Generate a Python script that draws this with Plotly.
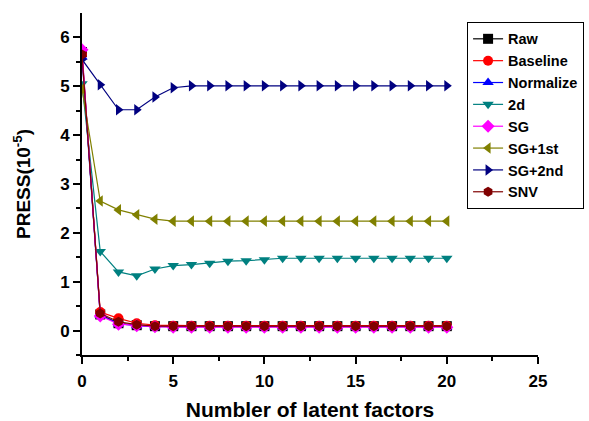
import plotly.graph_objects as go

x = list(range(21))
raw = [5.70, 0.33, 0.15, 0.11, 0.09] + [0.09] * 16
baseline = [5.65, 0.38, 0.25, 0.15, 0.11] + [0.10] * 16
normalize = [5.60, 0.32, 0.14, 0.10, 0.08] + [0.08] * 16
d2 = [5.05, 1.62, 1.20, 1.12, 1.26, 1.33, 1.35, 1.38, 1.42, 1.43, 1.45] + [1.48] * 10
sg = [5.75, 0.30, 0.13, 0.10, 0.08] + [0.07] * 16
sg1 = [4.95, 2.65, 2.47, 2.37, 2.28, 2.24] + [2.24] * 15
sg2 = [5.55, 5.03, 4.52, 4.52, 4.78, 4.97] + [5.01] * 15
snv = [5.65, 0.35, 0.18, 0.12, 0.09] + [0.09] * 16

series = [
    ("Raw", raw, "#000000", "square"),
    ("Baseline", baseline, "#FF0000", "circle"),
    ("Normalize", normalize, "#0000FF", "triangle-up"),
    ("2d", d2, "#008080", "triangle-down"),
    ("SG", sg, "#FF00FF", "diamond"),
    ("SG+1st", sg1, "#808000", "triangle-left"),
    ("SG+2nd", sg2, "#000080", "triangle-right"),
    ("SNV", snv, "#800000", "hexagon"),
]

font = "Arial, Liberation Sans, sans-serif"
fig = go.Figure()
for name, y, c, sym in series:
    fig.add_trace(go.Scatter(
        x=x, y=y, name=name, mode="lines+markers",
        line=dict(color=c, width=1.2),
        marker=dict(symbol=sym, size=10, color=c),
    ))

axis_common = dict(
    showline=True, linecolor="black", linewidth=2, mirror=False,
    ticks="outside", ticklen=7, tickwidth=2, tickcolor="black",
    showgrid=False, zeroline=False, automargin=False,
    tickfont=dict(family=font, size=17, color="black", weight="bold"),
)
fig.update_layout(
    width=589, height=421,
    margin=dict(l=82, r=51, t=13, b=66, autoexpand=False),
    plot_bgcolor="white", paper_bgcolor="white",
    xaxis=dict(range=[0, 25], tickvals=[0, 5, 10, 15, 20, 25], ticklabelstandoff=3,
               minor=dict(tickvals=[2.5, 7.5, 12.5, 17.5, 22.5], ticklen=4, tickwidth=2, ticks="outside", tickcolor="black"),
               title=dict(text="Numbler of latent factors", font=dict(family=font, size=21, color="black", weight="bold"), standoff=12),
               **axis_common),
    yaxis=dict(range=[-0.5, 6.5], tickvals=[0, 1, 2, 3, 4, 5, 6],
               minor=dict(tickvals=[-0.5, 0.5, 1.5, 2.5, 3.5, 4.5, 5.5], ticklen=4, tickwidth=2, ticks="outside", tickcolor="black"),
               title=dict(text="PRESS(10<sup>-5</sup>)", font=dict(family=font, size=19, color="black", weight="bold"), standoff=24),
               **axis_common),
    legend=dict(xref="container", yref="container", x=0.793, y=0.948, xanchor="left", yanchor="top",
                bordercolor="black", borderwidth=1, bgcolor="white",
                font=dict(family=font, size=14.5, color="black", weight="bold"),
                tracegroupgap=0, itemwidth=30),
    showlegend=True,
)
fig.write_html("out.html")
